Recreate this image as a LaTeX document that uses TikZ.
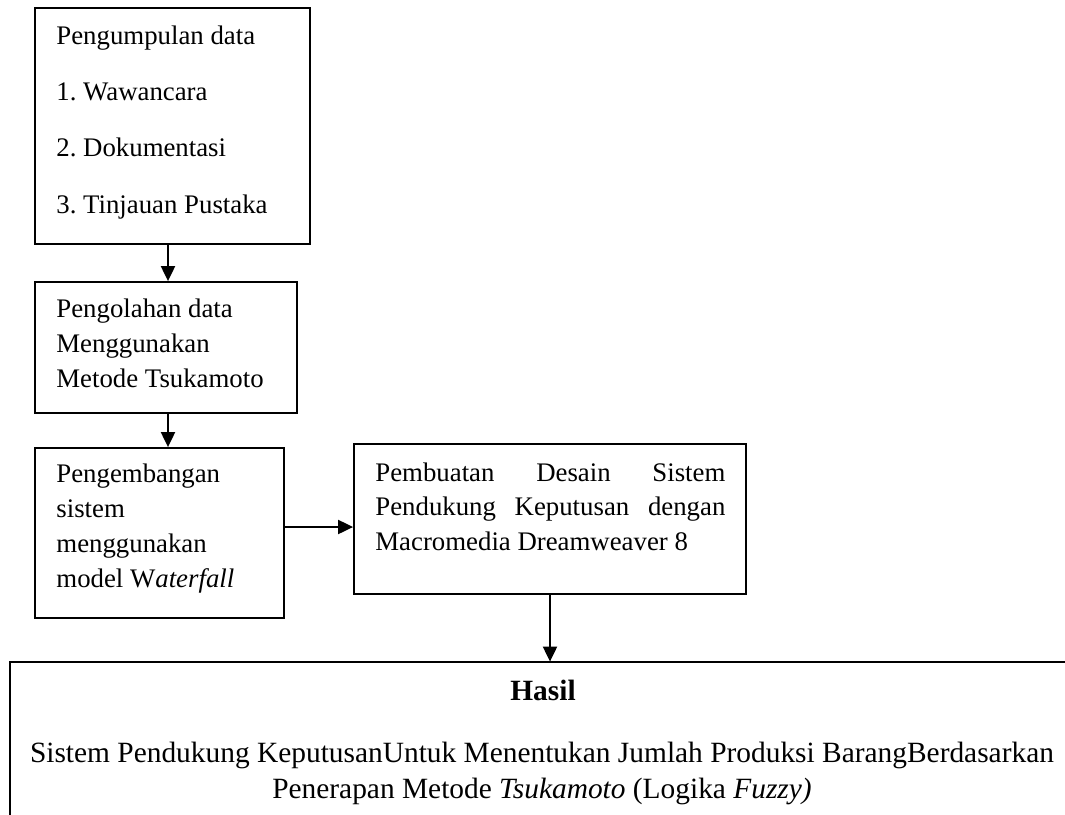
\documentclass[tikz,border=0pt]{standalone}
\usepackage{fontspec}
\setmainfont{Liberation Serif}
\usetikzlibrary{arrows.meta,fit}
\begin{document}
\frenchspacing
\begin{tikzpicture}[x=0.5pt,y=-0.5pt,
  box/.style={draw, line width=0.9pt, inner sep=0pt},
  txt/.style={anchor=base west, inner sep=0pt, font=\fontsize{13.4}{16}\selectfont},
  ctxt/.style={anchor=base, inner sep=0pt, font=\fontsize{14.7}{17}\selectfont},
  arr/.style={line width=1pt, -{Triangle[length=7.5pt,width=7pt]}}]
\useasboundingbox (0,0) rectangle (1065,814);
% boxes
\node[box, fit={(35,8) (310,244)}] (b1) {};
\node[box, fit={(35,282) (297,413)}] (b2) {};
\node[box, fit={(35,448) (284,618)}] (b3) {};
\node[box, fit={(354,444) (746,594)}] (b4) {};
\node[inner sep=0pt, fit={(10,662) (1080,830)}] (hasil) {};
\draw[line width=0.9pt] (hasil.south west) |- (hasil.north east);
% texts
\node[txt] (t1) at (56,44) {\vtop{\baselineskip=28.2pt
  \hbox{Pengumpulan data}\hbox{1. Wawancara}\hbox{2. Dokumentasi}\hbox{3. Tinjauan Pustaka}}};
\node[txt] (t2) at (56,317) {\vtop{\baselineskip=17.5pt
  \hbox{Pengolahan data}\hbox{Menggunakan}\hbox{Metode Tsukamoto}}};
\node[txt] (t3) at (56,482) {\vtop{\baselineskip=17.6pt
  \hbox{Pengembangan}\hbox{sistem}\hbox{menggunakan}\hbox{model W\textit{aterfall}}}};
\node[txt] (t4) at (375,481) {\vtop{\baselineskip=17.3pt
  \hbox to 175pt{Pembuatan\hfill Desain\hfill Sistem}
  \hbox to 175pt{Pendukung\hfill Keputusan\hfill dengan}
  \hbox{Macromedia Dreamweaver 8}}};
\node[ctxt] (h0) at (543,700) {\textbf{Hasil}};
\node[ctxt] (h1) at (542,762) {Sistem Pendukung KeputusanUntuk Menentukan Jumlah Produksi BarangBerdasarkan};
\node[ctxt] (h2) at (542,798) {Penerapan Metode \textit{Tsukamoto} (Logika \textit{Fuzzy)}};
% arrows
\coordinate (ax) at (168,0);
\coordinate (ay) at (0,527);
\draw[arr] (b1.south -| ax) -- (b2.north -| ax);
\draw[arr] (b2.south -| ax) -- (b3.north -| ax);
\draw[arr] (b3.east |- ay) -- (b4.west |- ay);
\draw[arr] (b4.south) -- (b4.south |- hasil.north);
\end{tikzpicture}
\end{document}
